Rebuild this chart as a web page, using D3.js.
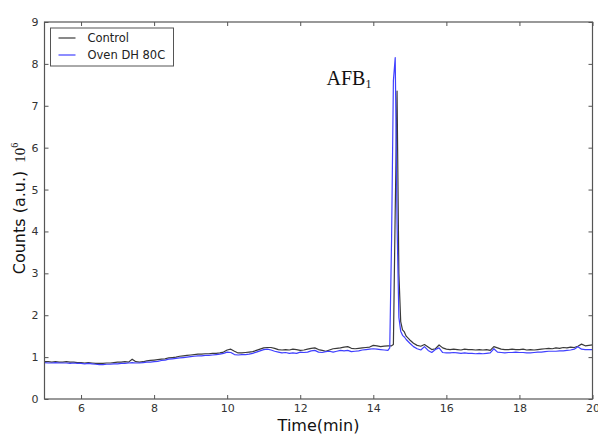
<!DOCTYPE html>
<html>
<head>
<meta charset="utf-8">
<script src="https://cdn.jsdelivr.net/npm/d3@7"></script>
<style>
  html, body { margin: 0; padding: 0; background: #fff; }
  svg { display: block; }
</style>
</head>
<body>
<svg id="chart" width="598" height="434"></svg>
<script>
// ---- data (time in min, counts in 10^6 a.u.) ----
const seriesNames = ["Control", "Oven DH 80C"];
const xTicks = [6, 8, 10, 12, 14, 16, 18, 20];
const yTicks = [0, 1, 2, 3, 4, 5, 6, 7, 8, 9];

const controlData = [
  [5.0,0.89],[5.1,0.89],[5.2,0.88],[5.3,0.89],[5.4,0.88],[5.5,0.88],[5.6,0.89],[5.7,0.88],[5.8,0.88],[5.9,0.87],
  [6.0,0.87],[6.1,0.86],[6.2,0.87],[6.3,0.86],[6.4,0.85],[6.5,0.85],[6.6,0.85],[6.7,0.86],[6.8,0.86],[6.9,0.87],
  [7.0,0.88],[7.1,0.88],[7.2,0.89],[7.3,0.88],[7.4,0.95],[7.5,0.89],[7.6,0.88],[7.7,0.89],[7.8,0.91],[7.9,0.92],
  [8.0,0.93],[8.1,0.94],[8.2,0.95],[8.3,0.96],[8.4,0.98],[8.5,0.99],[8.6,1.00],[8.7,1.02],[8.8,1.03],[8.9,1.04],
  [9.0,1.05],[9.1,1.06],[9.2,1.07],[9.3,1.07],[9.4,1.08],[9.5,1.08],[9.6,1.09],[9.7,1.09],[9.8,1.10],[9.9,1.12],
  [10.0,1.17],[10.1,1.19],[10.2,1.14],[10.3,1.10],[10.4,1.10],[10.5,1.11],[10.6,1.12],[10.7,1.13],[10.8,1.16],[10.9,1.19],
  [11.0,1.22],[11.1,1.23],[11.2,1.23],[11.3,1.21],[11.4,1.18],[11.5,1.17],[11.6,1.18],[11.7,1.17],[11.8,1.19],[11.9,1.18],
  [12.0,1.16],[12.1,1.17],[12.2,1.19],[12.3,1.21],[12.4,1.22],[12.5,1.18],[12.6,1.16],[12.7,1.14],[12.8,1.17],[12.9,1.20],
  [13.0,1.21],[13.1,1.22],[13.2,1.24],[13.3,1.25],[13.4,1.21],[13.5,1.20],[13.6,1.21],[13.7,1.22],[13.8,1.23],[13.9,1.24],
  [14.0,1.28],[14.1,1.27],[14.2,1.25],[14.3,1.26],[14.4,1.27],[14.5,1.27],[14.55,1.30],[14.6,4.5],[14.65,7.35],[14.7,3.0],
  [14.75,1.85],[14.8,1.65],[14.85,1.60],[14.9,1.50],[15.0,1.41],[15.1,1.33],[15.2,1.28],[15.3,1.26],[15.4,1.30],[15.5,1.24],
  [15.6,1.18],[15.7,1.20],[15.8,1.29],[15.9,1.22],[16.0,1.19],[16.1,1.18],[16.2,1.19],[16.3,1.18],[16.4,1.17],[16.5,1.19],
  [16.6,1.18],[16.7,1.18],[16.8,1.17],[16.9,1.18],[17.0,1.17],[17.1,1.18],[17.2,1.16],[17.3,1.25],[17.4,1.22],[17.5,1.19],
  [17.6,1.18],[17.7,1.18],[17.8,1.19],[17.9,1.18],[18.0,1.18],[18.1,1.19],[18.2,1.17],[18.3,1.18],[18.4,1.17],[18.5,1.18],
  [18.6,1.19],[18.7,1.20],[18.8,1.21],[18.9,1.20],[19.0,1.22],[19.1,1.21],[19.2,1.23],[19.3,1.22],[19.4,1.24],[19.5,1.23],
  [19.6,1.26],[19.7,1.31],[19.8,1.27],[19.9,1.28],[20.0,1.29]
];

const ovenData = [
  [5.0,0.87],[5.1,0.86],[5.2,0.86],[5.3,0.87],[5.4,0.86],[5.5,0.86],[5.6,0.86],[5.7,0.85],[5.8,0.86],[5.9,0.85],
  [6.0,0.85],[6.1,0.84],[6.2,0.85],[6.3,0.84],[6.4,0.83],[6.5,0.82],[6.6,0.82],[6.7,0.83],[6.8,0.83],[6.9,0.84],
  [7.0,0.84],[7.1,0.85],[7.2,0.85],[7.3,0.86],[7.4,0.87],[7.5,0.86],[7.6,0.86],[7.7,0.87],[7.8,0.88],[7.9,0.88],
  [8.0,0.89],[8.1,0.90],[8.2,0.92],[8.3,0.93],[8.4,0.95],[8.5,0.96],[8.6,0.97],[8.7,0.98],[8.8,0.99],[8.9,1.00],
  [9.0,1.01],[9.1,1.02],[9.2,1.03],[9.3,1.03],[9.4,1.04],[9.5,1.04],[9.6,1.05],[9.7,1.06],[9.8,1.07],[9.9,1.09],
  [10.0,1.12],[10.1,1.11],[10.2,1.06],[10.3,1.05],[10.4,1.06],[10.5,1.06],[10.6,1.07],[10.7,1.09],[10.8,1.12],[10.9,1.15],
  [11.0,1.18],[11.1,1.19],[11.2,1.17],[11.3,1.14],[11.4,1.12],[11.5,1.10],[11.6,1.11],[11.7,1.09],[11.8,1.10],[11.9,1.09],
  [12.0,1.12],[12.1,1.11],[12.2,1.12],[12.3,1.15],[12.4,1.16],[12.5,1.12],[12.6,1.11],[12.7,1.13],[12.8,1.14],[12.9,1.12],
  [13.0,1.14],[13.1,1.16],[13.2,1.15],[13.3,1.16],[13.4,1.13],[13.5,1.14],[13.6,1.15],[13.7,1.17],[13.8,1.18],[13.9,1.19],
  [14.0,1.20],[14.1,1.19],[14.2,1.18],[14.3,1.17],[14.4,1.16],[14.45,1.22],[14.5,3.8],[14.55,7.6],[14.6,8.15],[14.65,4.2],
  [14.7,1.95],[14.75,1.62],[14.8,1.52],[14.85,1.48],[14.9,1.42],[15.0,1.33],[15.1,1.25],[15.2,1.20],[15.3,1.17],[15.4,1.25],
  [15.5,1.16],[15.6,1.11],[15.7,1.18],[15.8,1.22],[15.9,1.11],[16.0,1.10],[16.1,1.10],[16.2,1.11],[16.3,1.10],[16.4,1.09],
  [16.5,1.10],[16.6,1.09],[16.7,1.09],[16.8,1.08],[16.9,1.09],[17.0,1.08],[17.1,1.09],[17.2,1.10],[17.3,1.20],[17.4,1.12],
  [17.5,1.11],[17.6,1.10],[17.7,1.11],[17.8,1.11],[17.9,1.12],[18.0,1.11],[18.1,1.11],[18.2,1.10],[18.3,1.10],[18.4,1.11],
  [18.5,1.12],[18.6,1.12],[18.7,1.13],[18.8,1.14],[18.9,1.14],[19.0,1.14],[19.1,1.15],[19.2,1.15],[19.3,1.16],[19.4,1.17],
  [19.5,1.19],[19.6,1.25],[19.7,1.19],[19.8,1.18],[19.9,1.18],[20.0,1.18]
];

const seriesColors = ["#3a3a3a", "#4040ff"];
const peakLabel = "AFB";
const peakSub = "1";
const peakLabelAt = [12.72, 7.5];

// ---- layout ----
const margin = {left: 44.5, right: 5.5, top: 22, bottom: 35};
const W = 598, H = 434;
const iw = W - margin.left - margin.right;
const ih = H - margin.top - margin.bottom;

const svg = d3.select("#chart");
const g = svg.append("g").attr("transform", `translate(${margin.left},${margin.top})`);

const x = d3.scaleLinear().domain([5, 20]).range([0, iw]);
const y = d3.scaleLinear().domain([0, 9]).range([ih, 0]);

const tickFont = "'DejaVu Sans', sans-serif";
const axisColor = "#555";

function styleAxis(sel, hideText) {
  sel.select(".domain").remove();
  sel.selectAll(".tick line").attr("stroke", axisColor).attr("stroke-width", 1);
  sel.selectAll(".tick text").attr("font-family", tickFont).attr("font-size", 11).attr("fill", "#333");
  if (hideText) sel.selectAll(".tick text").remove();
}

// bottom axis (ticks inward)
g.append("g").attr("transform", `translate(0,${ih})`)
  .call(d3.axisBottom(x).tickValues(xTicks).tickSizeInner(-4).tickSizeOuter(0).tickPadding(5).tickFormat(d3.format("d")))
  .call(s => styleAxis(s, false));
// top axis
g.append("g")
  .call(d3.axisTop(x).tickValues(xTicks).tickSizeInner(-4).tickSizeOuter(0).tickFormat(""))
  .call(s => styleAxis(s, true));
// left axis
g.append("g")
  .call(d3.axisLeft(y).tickValues(yTicks).tickSizeInner(-4).tickSizeOuter(0).tickPadding(6).tickFormat(d3.format("d")))
  .call(s => styleAxis(s, false));
// right axis
g.append("g").attr("transform", `translate(${iw},0)`)
  .call(d3.axisRight(y).tickValues(yTicks).tickSizeInner(-4).tickSizeOuter(0).tickFormat(""))
  .call(s => styleAxis(s, true));

// clip
g.append("clipPath").attr("id", "clip").append("rect").attr("width", iw).attr("height", ih);

const line = d3.line().x(d => x(d[0])).y(d => y(d[1]));
const allSeries = [controlData, ovenData];
allSeries.forEach((data, i) => {
  g.append("path")
    .datum(data)
    .attr("clip-path", "url(#clip)")
    .attr("fill", "none")
    .attr("stroke", seriesColors[i])
    .attr("stroke-width", 1.2)
    .attr("stroke-linejoin", "round")
    .attr("d", line);
});

// frame
g.append("rect").attr("width", iw).attr("height", ih)
  .attr("fill", "none").attr("stroke", axisColor).attr("stroke-width", 1.2);

// legend
const leg = g.append("g").attr("transform", "translate(6,6)");
leg.append("rect").attr("width", 123).attr("height", 38)
  .attr("fill", "#fff").attr("stroke", "#555").attr("stroke-width", 1);
seriesNames.forEach((name, i) => {
  const yy = 10 + i * 17;
  leg.append("line").attr("x1", 8).attr("x2", 25).attr("y1", yy).attr("y2", yy)
    .attr("stroke", seriesColors[i]).attr("stroke-width", 1.2);
  leg.append("text").attr("x", 37).attr("y", yy + 4)
    .attr("font-family", tickFont).attr("font-size", 11.5).attr("fill", "#222").text(name);
});

// peak annotation
const ann = g.append("text")
  .attr("x", x(peakLabelAt[0])).attr("y", y(peakLabelAt[1]))
  .attr("font-family", "'Liberation Serif', serif").attr("font-size", 20).attr("fill", "#111");
ann.append("tspan").text(peakLabel);
ann.append("tspan").attr("font-size", 12).attr("dy", 3).text(peakSub);

// x label
svg.append("text")
  .attr("x", margin.left + iw / 2).attr("y", 430.5)
  .attr("text-anchor", "middle")
  .attr("font-family", tickFont).attr("font-size", 16).attr("fill", "#111")
  .text("Time(min)");

// y label
const yl = svg.append("text")
  .attr("transform", `translate(25,${margin.top + ih / 2 - 2}) rotate(-90)`)
  .attr("text-anchor", "middle")
  .attr("fill", "#111");
yl.append("tspan").attr("font-family", tickFont).attr("font-size", 16).text("Counts (a.u.)");
yl.append("tspan").attr("font-family", "'Liberation Serif', serif").attr("font-size", 15).attr("dx", 8).text("10");
yl.append("tspan").attr("font-family", "'Liberation Serif', serif").attr("font-size", 10).attr("dy", -7).text("6");
</script>
</body>
</html>
